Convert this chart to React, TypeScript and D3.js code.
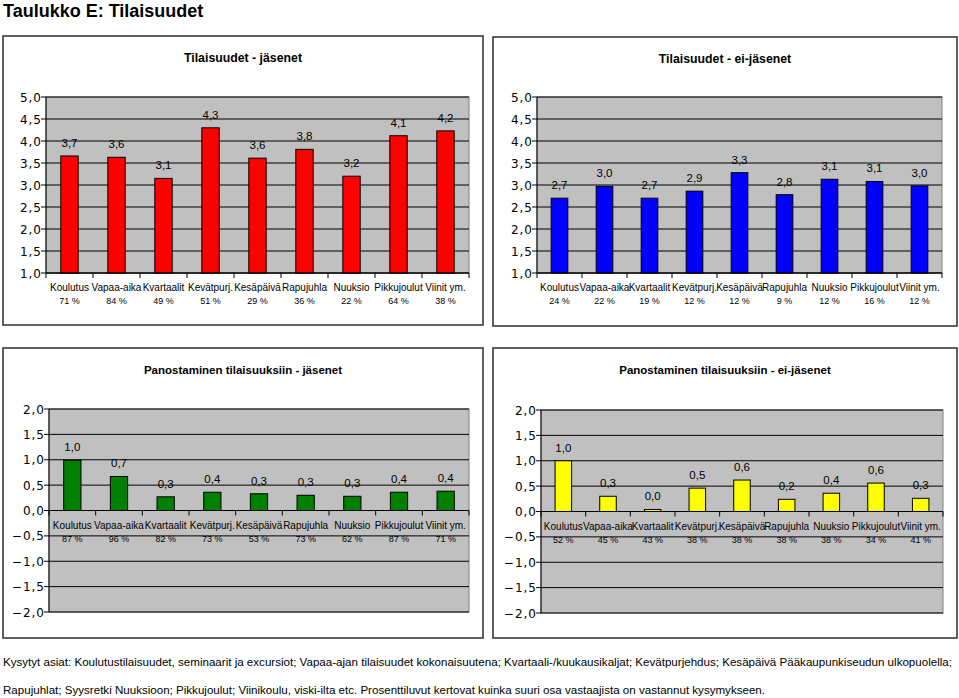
import React from "react";
import * as d3 from "d3";

const categories = ["Koulutus", "Vapaa-aika", "Kvartaalit", "Kevätpurj.", "Kesäpäivä", "Rapujuhla", "Nuuksio", "Pikkujoulut", "Viinit ym."];

const membersValues = [3.66, 3.63, 3.15, 4.3, 3.61, 3.81, 3.2, 4.12, 4.23];
const membersPct = [71, 84, 49, 51, 29, 36, 22, 64, 38];

const nonMembersValues = [2.7, 2.97, 2.7, 2.86, 3.28, 2.78, 3.13, 3.08, 2.98];
const nonMembersPct = [24, 22, 19, 12, 12, 9, 12, 16, 12];

const investMembersValues = [0.99, 0.67, 0.27, 0.36, 0.33, 0.3, 0.28, 0.36, 0.38];
const investMembersPct = [87, 96, 82, 73, 53, 73, 62, 87, 71];

const investNonMembersValues = [1.0, 0.3, 0.04, 0.46, 0.62, 0.24, 0.36, 0.56, 0.26];
const investNonMembersPct = [52, 45, 43, 38, 38, 38, 38, 34, 41];

const topTicks = [1.0, 1.5, 2.0, 2.5, 3.0, 3.5, 4.0, 4.5, 5.0];
const bottomTicks = [-2.0, -1.5, -1.0, -0.5, 0.0, 0.5, 1.0, 1.5, 2.0];

const FONT = "Arial, 'Liberation Sans', sans-serif";
const TICKFONT = "'DejaVu Sans', Verdana, sans-serif";
const fmt = (v: number) => d3.format(".1f")(v).replace(".", ",");

type PanelProps = {
  box: [number, number, number, number];
  plot: [number, number, number, number];
  title: string;
  titleSize: number;
  values: number[];
  pct: number[];
  ticks: number[];
  color: string;
  base: number;
};

function Panel({ box, plot, title, titleSize, values, pct, ticks, color, base }: PanelProps) {
  const [bx, by, bw, bh] = box;
  const [px0, py0, px1, py1] = plot;
  const y = d3.scaleLinear().domain([ticks[0], ticks[ticks.length - 1]]).range([py1, py0]);
  const x = d3.scaleBand().domain(categories).range([px0, px1]);
  const barW = x.bandwidth() * 0.37;
  const y0 = y(base);
  return (
    <g>
      <rect x={bx} y={by} width={bw} height={bh} fill="#fff" stroke="#3a3a3a" strokeWidth={1.6} />
      <text x={bx + bw / 2} y={by + 26} textAnchor="middle" fontFamily={FONT} fontWeight="bold" fontSize={titleSize} fill="#000">
        {title}
      </text>
      <rect x={px0} y={py0} width={px1 - px0} height={py1 - py0} fill="#c0c0c0" stroke="#808080" strokeWidth={1} />
      {ticks.map((t) => (
        <line key={"g" + t} x1={px0} x2={px1} y1={y(t)} y2={y(t)} stroke="#000" strokeWidth={1} />
      ))}
      {ticks.map((t) => (
        <g key={"t" + t}>
          <line x1={px0 - 5} x2={px0} y1={y(t)} y2={y(t)} stroke="#000" />
          <text x={px0 - 4} y={y(t) + 4.5} textAnchor="end" fontFamily={TICKFONT} fontSize={12} letterSpacing={1} fill="#000">
            {fmt(t)}
          </text>
        </g>
      ))}
      {values.map((v, i) => {
        const cx = (x(categories[i]) as number) + x.bandwidth() / 2;
        const top = Math.min(y(v), y0);
        const h = Math.abs(y(v) - y0);
        return (
          <g key={"b" + i}>
            <rect x={cx - barW / 2} y={top} width={barW} height={h} fill={color} stroke="#000" strokeWidth={1} />
            <text x={cx} y={y(v) - 9} textAnchor="middle" fontFamily={FONT} fontSize={11.5} fill="#000">
              {fmt(v)}
            </text>
          </g>
        );
      })}
      <line x1={px0} x2={px0} y1={py0} y2={py1} stroke="#000" />
      <line x1={px0} x2={px1} y1={y0} y2={y0} stroke="#000" />
      {categories.map((c, i) => (
        <line key={"xt" + i} x1={x(c) as number} x2={x(c) as number} y1={y0} y2={y0 + 5} stroke="#000" />
      ))}
      <line x1={px1} x2={px1} y1={y0} y2={y0 + 5} stroke="#000" />
      {categories.map((c, i) => {
        const cx = (x(c) as number) + x.bandwidth() / 2;
        return (
          <g key={"l" + i}>
            <text x={cx} y={y0 + 18} textAnchor="middle" fontFamily={FONT} fontSize={10} fill="#000">
              {c}
            </text>
            <text x={cx} y={y0 + 31} textAnchor="middle" fontFamily={FONT} fontSize={9} fill="#000">
              {pct[i] + " %"}
            </text>
          </g>
        );
      })}
    </g>
  );
}

export default function App() {
  return (
    <div style={{ position: "absolute", left: 0, top: 0 }}>
      <svg width={959} height={698} style={{ display: "block", background: "#fff" }}>
        <text x={3} y={17} fontFamily={FONT} fontWeight="bold" fontSize={18} fill="#000">
          Taulukko E: Tilaisuudet
        </text>
        <Panel box={[3, 36, 480, 289]} plot={[46, 97, 469, 273]} title="Tilaisuudet - jäsenet" titleSize={12.3} values={membersValues} pct={membersPct} ticks={topTicks} color="#ff0000" base={1} />
        <Panel box={[493, 37, 464, 289]} plot={[537, 97, 942, 273]} title="Tilaisuudet - ei-jäsenet" titleSize={12.3} values={nonMembersValues} pct={nonMembersPct} ticks={topTicks} color="#0000ff" base={1} />
        <Panel box={[3, 348, 480, 290]} plot={[49, 409, 469, 612]} title="Panostaminen tilaisuuksiin - jäsenet" titleSize={11.5} values={investMembersValues} pct={investMembersPct} ticks={bottomTicks} color="#008000" base={0} />
        <Panel box={[493, 348, 464, 290]} plot={[541, 410, 943, 613]} title="Panostaminen tilaisuuksiin - ei-jäsenet" titleSize={11.5} values={investNonMembersValues} pct={investNonMembersPct} ticks={bottomTicks} color="#ffff00" base={0} />
        <text x={3} y={666} fontFamily={FONT} fontSize={11} fill="#000" textLength={949} lengthAdjust="spacingAndGlyphs">
          Kysytyt asiat: Koulutustilaisuudet, seminaarit ja excursiot; Vapaa-ajan tilaisuudet kokonaisuutena; Kvartaali-/kuukausikaljat; Kevätpurjehdus; Kesäpäivä Pääkaupunkiseudun ulkopuolella;
        </text>
        <text x={3} y={694} fontFamily={FONT} fontSize={11} fill="#000" textLength={762} lengthAdjust="spacingAndGlyphs">
          Rapujuhlat; Syysretki Nuuksioon; Pikkujoulut; Viinikoulu, viski-ilta etc. Prosenttiluvut kertovat kuinka suuri osa vastaajista on vastannut kysymykseen.
        </text>
      </svg>
    </div>
  );
}
